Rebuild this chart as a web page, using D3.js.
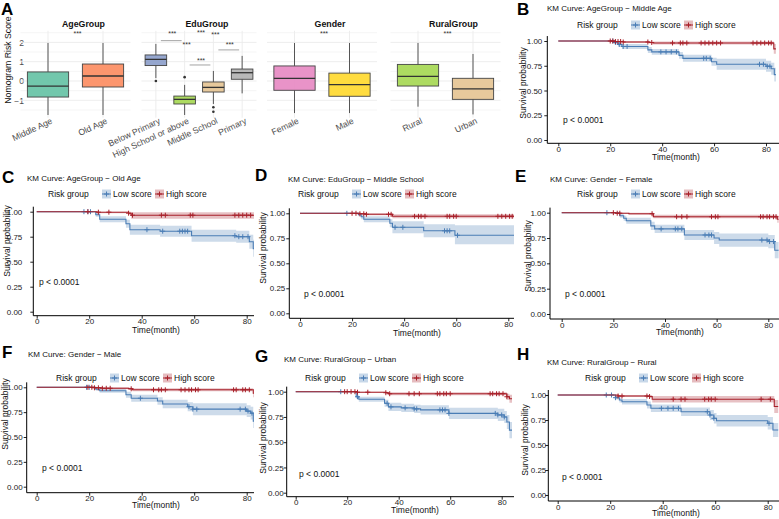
<!DOCTYPE html>
<html lang="en">
<head>
<meta charset="UTF-8">
<script src="https://d3js.org/d3.v7.min.js"></script>
<style>
  body { margin: 0; background: #fff; }
  svg { font-family: "Liberation Sans", Arial, sans-serif; }
  .tag { font-size: 17px; font-weight: bold; fill: #000; }
  .kmtitle { font-size: 8px; fill: #111; }
  .kmtext { font-size: 8.5px; fill: #111; }
</style>
</head>
<body>
<svg id="fig" width="779" height="519"></svg>
<script>

// ---------------- panel A : box plots ----------------
const facets = ["AgeGroup", "EduGroup", "Gender", "RuralGroup"];
const facetGroups = [
  ["Middle Age", "Old Age"],
  ["Below Primary", "High School or above", "Middle School", "Primary"],
  ["Female", "Male"],
  ["Rural", "Urban"]
];
const boxFill = [
  ["#66C2A5", "#FC8D62"],
  ["#8DA0CB", "#A6D854", "#E5C494", "#B3B3B3"],
  ["#E78AC3", "#FFD92F"],
  ["#A6D854", "#E5C494"]
];
const whiskLow  = [[-1.76, -1.76], [0.15, -1.76, -1.19, -0.64], [-1.66, -1.66], [-1.33, -1.73]];
const q1        = [[-0.83, -0.31], [0.80, -1.19, -0.57, 0.09], [-0.48, -0.79], [-0.26, -0.95]];
const median    = [[-0.26, 0.26], [1.12, -0.95, -0.33, 0.43], [0.14, -0.19], [0.24, -0.41]];
const q3        = [[0.47, 0.88], [1.35, -0.78, -0.05, 0.62], [0.78, 0.41], [0.86, 0.14]];
const whiskHigh = [[1.97, 1.97], [1.92, -0.20, 0.52, 1.30], [1.97, 1.97], [1.97, 1.40]];
const outliers  = [[[], []], [[0.0], [0.2], [-1.36, -1.59], []], [[], []], [[], []]];
const boxTicks = [-1, 0, 1, 2];
const boxGrid = [-1.5, -1, -0.5, 0, 0.5, 1, 1.5, 2, 2.5];

// significance labels ("***") for EduGroup pairs
const eduPairs = [
  ["Below Primary", "High School or above"],
  ["Below Primary", "Middle School"],
  ["Below Primary", "Primary"],
  ["High School or above", "Middle School"],
  ["High School or above", "Primary"],
  ["Middle School", "Primary"]
];
const eduSigY  = [2.47, 1.90, 2.52, 1.09, 2.42, 1.90];
const eduLineY = [2.09, null, null, 0.83, null, 1.61];

// ---------------- KM panels B..H ----------------
const kmIds = ["B", "C", "D", "E", "F", "G", "H"];
const kmTitles = [
  "KM Curve: AgeGroup \u2212 Middle Age",
  "KM Curve: AgeGroup \u2212 Old Age",
  "KM Curve: EduGroup \u2212 Middle School",
  "KM Curve: Gender \u2212 Female",
  "KM Curve: Gender \u2212 Male",
  "KM Curve: RuralGroup \u2212 Urban",
  "KM Curve: RuralGroup \u2212 Rural"
];
const kmTicksX = [0, 20, 40, 60, 80];
const kmTicksY = [0, 0.25, 0.5, 0.75, 1];

// steps: [time, survival, lower CI, upper CI]
const lowB = [[0,1,1,1],[21.5,0.985,0.97,1],[23,0.965,0.945,0.985],[24.5,0.945,0.92,0.97],[34.5,0.91,0.88,0.94],[36,0.89,0.86,0.92],[46.5,0.855,0.82,0.89],[48,0.825,0.79,0.86],[59,0.79,0.75,0.83],[61,0.765,0.71,0.82],[80,0.745,0.69,0.8],[82,0.72,0.66,0.78],[83.2,0.66,0.59,0.73],[83.8,0.66,0.59,0.73]];
const highB = [[0,1,1,1],[22,0.995,0.99,1],[25,0.99,0.98,1],[35,0.985,0.975,0.995],[36.5,0.98,0.965,0.995],[83,0.92,0.87,0.97],[83.8,0.92,0.87,0.97]];
const censLowB = [21,22,23.5,25,26.5,39.5,41.5,43.5,45.5,56,57,58.5,77.5,79,80.5,81.5];
const censHighB = [20,21,22,23,24,25,34.5,36,44,47,48,49.5,55,56.5,58,59.5,61,62.5,75,76.5,78,79.5,81,82];

const lowC = [[0,1,1,1],[22.5,0.97,0.95,0.99],[24,0.925,0.895,0.955],[34,0.88,0.84,0.92],[35.5,0.82,0.77,0.87],[47,0.805,0.75,0.86],[59,0.76,0.7,0.82],[76,0.75,0.69,0.81],[81,0.7,0.63,0.77],[82.5,0.63,0.55,0.72],[84,0.63,0.55,0.72]];
const highC = [[0,1,1,1],[23,0.995,0.985,1],[35,0.985,0.97,1],[36,0.965,0.93,0.995],[83,0.935,0.89,0.98],[84,0.935,0.89,0.98]];
const censLowC = [18,19.5,20.5,42,48,54.5,55.5,56.5,57.5,75.5,77,78.5,80.5];
const censHighC = [19.5,23.5,27.5,35,36.5,47.5,49,58.5,59.5,75.5,77,78.5,80,81.5];

const lowD = [[0,1,1,1],[22.5,0.985,0.97,1],[23.5,0.965,0.94,0.99],[24.5,0.94,0.91,0.97],[34.5,0.9,0.86,0.94],[35.5,0.86,0.8,0.92],[47.5,0.825,0.76,0.89],[59.5,0.78,0.69,0.88],[84,0.78,0.69,0.88]];
const highD = [[0,1,1,1],[23,0.995,0.99,1],[25,0.99,0.98,1],[35.5,0.97,0.95,0.99],[82.5,0.91,0.86,0.96],[84,0.91,0.86,0.96]];
const censLowD = [18,36.5,39.5,55.5,56.5,57.5,60.5];
const censHighD = [20,21.5,23,24.5,25.5,34,35,44,45.5,46.5,48,56.5,57.5,59,60,76,77.5,79,80.5,81.5];

const lowE = [[0,1,1,1],[22.5,0.97,0.95,0.99],[24,0.945,0.92,0.97],[25,0.92,0.89,0.95],[34.5,0.87,0.83,0.91],[36,0.84,0.8,0.88],[47.5,0.78,0.73,0.83],[59,0.75,0.69,0.81],[61,0.73,0.665,0.795],[80,0.715,0.65,0.78],[82.5,0.63,0.55,0.71],[84,0.63,0.55,0.71]];
const highE = [[0,1,1,1],[21,0.995,0.99,1],[26,0.99,0.98,1],[35.5,0.96,0.945,0.98],[83.5,0.935,0.9,0.97],[84,0.935,0.9,0.97]];
const censLowE = [17.5,38.5,44,45,46.5,55.5,57,58,77.5,79.5,80.5,82];
const censHighE = [20,21.5,22.5,35,44.5,46.5,48.5,58,59.5,60.5,77,78,79.5,80.5,82,83];

const lowF = [[0,1,1,1],[22.5,0.98,0.965,0.995],[24,0.966,0.945,0.985],[34,0.925,0.895,0.955],[36,0.89,0.855,0.925],[46,0.862,0.825,0.9],[48,0.832,0.79,0.875],[57.5,0.805,0.76,0.85],[59.5,0.78,0.72,0.84],[80,0.76,0.7,0.82],[81.5,0.74,0.675,0.805],[82.5,0.66,0.59,0.73],[84,0.66,0.59,0.73]];
const highF = [[0,1,1,1],[22,0.995,0.99,1],[25,0.99,0.98,1],[35,0.985,0.975,0.995],[36.5,0.975,0.96,0.99],[82.5,0.94,0.9,0.98],[83.3,0.92,0.87,0.97],[84,0.92,0.87,0.97]];
const censLowF = [19,20,39.5,58,59.5,61,77.5,79.5,80.5,82];
const censHighF = [19.5,21,22,23.5,25,26.5,28,36,44.5,46.5,47.5,49,55,56.5,58,59,60.5,61.5,75,76,78.5,79.5,81];

const lowG = [[0,1,1,1],[23.5,0.95,0.93,0.97],[24.5,0.925,0.9,0.95],[34.5,0.885,0.85,0.92],[36,0.85,0.81,0.89],[41,0.84,0.8,0.88],[46,0.83,0.79,0.87],[48.5,0.82,0.775,0.865],[59.5,0.785,0.73,0.84],[78.5,0.77,0.71,0.83],[81,0.75,0.69,0.81],[82,0.7,0.63,0.77],[83,0.62,0.54,0.7],[84,0.62,0.54,0.7]];
const highG = [[0,1,1,1],[24,0.995,0.99,1],[35,0.99,0.98,1],[36,0.98,0.965,0.995],[82,0.95,0.92,0.98],[83,0.93,0.89,0.97],[84,0.93,0.89,0.97]];
const censLowG = [17.5,24,35.5,37,42.5,46,47,56,57,58,59.5,77.5,78.5,80,81];
const censHighG = [19,20,21.5,23,24,28,35,36.5,44,46,48,55,56,57.5,58.5,60,75.5,76.5,78,79,80.5,82];

const lowH = [[0,1,1,1],[22,0.973,0.955,0.99],[23.5,0.95,0.925,0.975],[24.5,0.933,0.905,0.96],[34,0.9,0.865,0.935],[35.5,0.867,0.83,0.905],[47,0.833,0.79,0.875],[58,0.8,0.75,0.85],[59.5,0.767,0.715,0.82],[60.5,0.743,0.685,0.8],[80,0.717,0.655,0.78],[82,0.65,0.58,0.72],[84,0.65,0.58,0.72]];
const highH = [[0,1,1,1],[23,0.99,0.98,1],[35,0.985,0.97,1],[36,0.958,0.925,0.99],[82.5,0.885,0.82,0.95],[84,0.885,0.82,0.95]];
const censLowH = [18.5,20.5,22,39.5,42,44,46,57,58,59.5,80.5];
const censHighH = [23,24.5,34,35,44,47,48.5,56,57.5,58.5,60,77.5,81];

const kmLow = [lowB, lowC, lowD, lowE, lowF, lowG, lowH];
const kmHigh = [highB, highC, highD, highE, highF, highG, highH];
const kmCensLow = [censLowB, censLowC, censLowD, censLowE, censLowF, censLowG, censLowH];
const kmCensHigh = [censHighB, censHighC, censHighD, censHighE, censHighF, censHighG, censHighH];

const blue = "#4A7DB5", red = "#A8202A";

// ---------------- layout ----------------
const facetRange = [[20.5, 130.5], [141.5, 256.5], [267, 377], [390.5, 500.5]];

// per KM panel geometry (pixels)
const kmLayout = [
  {ax: 547.3, x0: 558.3, x80: 766,   y1: 41,    y0: 140,   axY: 143.3, tg: 4,  right: 779, lab: [517, 15],  title: [547, 11],  leg: [577, 28],  p: [563, 123], xt: [676, 160], yt: [523, 83]},
  {ax: 33.3,  x0: 36.7,  x80: 246.7, y1: 211.7, y0: 311.7, axY: 315.7, tg: 10, right: 254, lab: [2, 183],   title: [27, 181],  leg: [48, 197],  p: [39, 285],  xt: [156, 333], yt: [7, 241]},
  {ax: 289.3, x0: 300,   x80: 508.3, y1: 213.3, y0: 313.3, axY: 318.3, tg: 3,  right: 514, lab: [255, 181], title: [288, 182], leg: [298, 197], p: [304, 297], xt: [417, 336], yt: [263, 248]},
  {ax: 550,   x0: 561.7, x80: 768.3, y1: 212.7, y0: 314,   axY: 319,   tg: 3,  right: 779, lab: [515, 182], title: [550, 182], leg: [577, 197], p: [565, 297], xt: [680, 335], yt: [528, 256]},
  {ax: 26.7,  x0: 36.7,  x80: 246.7, y1: 387.3, y0: 486.7, axY: 492.7, tg: 3,  right: 254, lab: [2, 358],   title: [28, 357],  leg: [56, 381],  p: [42, 471],  xt: [156, 508], yt: [5, 414]},
  {ax: 286.7, x0: 295.7, x80: 501.7, y1: 391.7, y0: 492.7, axY: 496.7, tg: 2,  right: 514, lab: [255, 362], title: [284, 362], leg: [305, 381], p: [299, 477], xt: [415, 513], yt: [263, 438]},
  {ax: 548.3, x0: 557.7, x80: 767.7, y1: 395,   y0: 495,   axY: 501,   tg: 1,  right: 779, lab: [517, 360], title: [547, 365], leg: [585, 381], p: [562, 480], xt: [676, 516], yt: [525, 440]}
];

const svg = d3.select("#fig");

// ================= Panel A =================
const yBox = d3.scaleLinear().domain([-1.9, 2.6]).range([117.7, 30.8]);
const gA = svg.append("g");

gA.append("text")
    .attr("transform", `translate(11,60) rotate(-90)`)
    .attr("text-anchor", "middle")
    .attr("font-size", 8.7)
    .attr("fill", "#111")
    .text("Nomogram Risk Score");

gA.append("text").attr("class", "tag").attr("x", 1).attr("y", 15).text("A");

// y tick labels (left facet only)
const yAxisA = gA.append("g")
    .attr("transform", "translate(27,0)")
    .call(d3.axisLeft(yBox).tickValues(boxTicks).tickSize(0).tickPadding(3).tickFormat(d3.format("d")));
yAxisA.select(".domain").remove();
yAxisA.selectAll("text").attr("font-size", 8.5).attr("fill", "#4d4d4d")
    .attr("font-family", "Liberation Sans, Arial, sans-serif");

facets.forEach((f, fi) => {
  const [xa, xb] = facetRange[fi];
  const x = d3.scaleBand().domain(facetGroups[fi]).range([xa, xb]);
  const bw = x.bandwidth() * 0.75;
  const g = gA.append("g");

  // grid
  g.selectAll(".hg").data(boxGrid).enter().append("line")
      .attr("x1", xa).attr("x2", xb)
      .attr("y1", d => yBox(d)).attr("y2", d => yBox(d))
      .attr("stroke", "#ebebeb")
      .attr("stroke-width", d => Number.isInteger(d) ? 0.9 : 0.5);
  g.selectAll(".vg").data(facetGroups[fi]).enter().append("line")
      .attr("x1", d => x(d) + x.bandwidth() / 2).attr("x2", d => x(d) + x.bandwidth() / 2)
      .attr("y1", yBox(2.6)).attr("y2", yBox(-1.9))
      .attr("stroke", "#ebebeb").attr("stroke-width", 0.9);

  // facet title
  g.append("text")
      .attr("x", (xa + xb) / 2 + 8).attr("y", 27)
      .attr("text-anchor", "middle")
      .attr("font-size", 8.8).attr("font-weight", "bold").attr("fill", "#111")
      .text(f);

  // boxes
  facetGroups[fi].forEach((c, ci) => {
    const cx = x(c) + x.bandwidth() / 2;
    g.append("line")
        .attr("x1", cx).attr("x2", cx)
        .attr("y1", yBox(whiskHigh[fi][ci])).attr("y2", yBox(q3[fi][ci]))
        .attr("stroke", "#555").attr("stroke-width", 1);
    g.append("line")
        .attr("x1", cx).attr("x2", cx)
        .attr("y1", yBox(q1[fi][ci])).attr("y2", yBox(whiskLow[fi][ci]))
        .attr("stroke", "#555").attr("stroke-width", 1);
    g.append("rect")
        .attr("x", cx - bw / 2).attr("width", bw)
        .attr("y", yBox(q3[fi][ci])).attr("height", yBox(q1[fi][ci]) - yBox(q3[fi][ci]))
        .attr("fill", boxFill[fi][ci]).attr("fill-opacity", 0.92)
        .attr("stroke", "#444").attr("stroke-width", 0.9);
    g.append("line")
        .attr("x1", cx - bw / 2).attr("x2", cx + bw / 2)
        .attr("y1", yBox(median[fi][ci])).attr("y2", yBox(median[fi][ci]))
        .attr("stroke", "#333").attr("stroke-width", 1.3);
    g.selectAll(null).data(outliers[fi][ci]).enter().append("circle")
        .attr("cx", cx).attr("cy", d => yBox(d)).attr("r", 1.3)
        .attr("fill", "#333");

    // rotated category label
    g.append("text")
        .attr("transform", `translate(${cx + 5},123) rotate(-25)`)
        .attr("text-anchor", "end")
        .attr("font-size", 8.7).attr("fill", "#4d4d4d")
        .text(c);
  });

  // significance
  if (facetGroups[fi].length === 2) {
    const mid = (x(facetGroups[fi][0]) + x(facetGroups[fi][1]) + x.bandwidth()) / 2;
    g.append("text")
        .attr("x", mid + 2).attr("y", yBox(2.47) + 3)
        .attr("text-anchor", "middle").attr("font-size", 7).attr("fill", "#333")
        .text("***");
  } else {
    eduPairs.forEach((p, pi) => {
      const xa1 = x(p[0]) + x.bandwidth() / 2, xb1 = x(p[1]) + x.bandwidth() / 2;
      const mid = (xa1 + xb1) / 2;
      g.append("text")
          .attr("x", mid + 2).attr("y", yBox(eduSigY[pi]) + 3)
          .attr("text-anchor", "middle").attr("font-size", 7).attr("fill", "#333")
          .text("***");
      if (eduLineY[pi] !== null) {
        g.append("line")
            .attr("x1", xa1 + 5).attr("x2", xb1 - 3)
            .attr("y1", yBox(eduLineY[pi])).attr("y2", yBox(eduLineY[pi]))
            .attr("stroke", "#999").attr("stroke-width", 0.9);
      }
    });
  }
});

// ================= KM panels =================
function stepValue(steps, t) {
  const i = d3.bisector(d => d[0]).right(steps, t) - 1;
  return steps[Math.max(0, i)][1];
}

function plus(g, cx, cy, color) {
  g.append("path")
      .attr("d", `M${cx - 2.5},${cy}H${cx + 2.5}M${cx},${cy - 2.5}V${cy + 2.5}`)
      .attr("stroke", color).attr("stroke-width", 1);
}

kmIds.forEach((id, i) => {
  const L = kmLayout[i];
  const g = svg.append("g");
  const x = d3.scaleLinear().domain([0, 80]).range([L.x0, L.x80]);
  const y = d3.scaleLinear().domain([0, 1]).range([L.y0, L.y1]);

  g.append("text").attr("class", "tag").attr("x", L.lab[0]).attr("y", L.lab[1]).text(id);
  g.append("text").attr("class", "kmtitle").attr("x", L.title[0]).attr("y", L.title[1]).text(kmTitles[i]);

  // legend
  const lg = g.append("g").attr("transform", `translate(${L.leg[0]},${L.leg[1]})`);
  lg.append("text").attr("class", "kmtext").attr("x", 0).attr("y", 0).text("Risk group");
  [[54, blue, "Low score"], [107, red, "High score"]].forEach(([dx, col, lab]) => {
    lg.append("rect").attr("x", dx).attr("y", -7.5).attr("width", 9).attr("height", 9)
        .attr("fill", col).attr("fill-opacity", 0.3);
    lg.append("line").attr("x1", dx).attr("x2", dx + 9).attr("y1", -3).attr("y2", -3)
        .attr("stroke", col).attr("stroke-width", 1);
    plus(lg, dx + 4.5, -3, col);
    lg.append("text").attr("class", "kmtext").attr("x", dx + 11).attr("y", 0).text(lab);
  });

  // clip region for the plotting area
  const clipId = "clip" + id;
  g.append("clipPath").attr("id", clipId).append("rect")
      .attr("x", L.ax).attr("y", y(1.08))
      .attr("width", L.right - L.ax).attr("height", L.axY - y(1.08));
  const plot = g.append("g").attr("clip-path", `url(#${clipId})`);

  const area = d3.area().curve(d3.curveStepAfter)
      .x(d => x(d[0])).y0(d => y(d[2])).y1(d => y(d[3]));
  const line = d3.line().curve(d3.curveStepAfter)
      .x(d => x(d[0])).y(d => y(d[1]));

  const series = [[kmLow[i], kmCensLow[i], blue], [kmHigh[i], kmCensHigh[i], red]];
  series.forEach(([steps, , col]) => {
    plot.append("path").attr("d", area(steps)).attr("fill", col).attr("fill-opacity", 0.28);
  });
  series.forEach(([steps, cens, col]) => {
    plot.append("path").attr("d", line(steps)).attr("fill", "none")
        .attr("stroke", col).attr("stroke-width", 1.1);
    cens.forEach(t => plus(plot, x(t), y(stepValue(steps, t)), col));
  });

  // axes
  const ya = g.append("g").attr("transform", `translate(${L.ax},0)`)
      .call(d3.axisLeft(y).tickValues(kmTicksY).tickFormat(d3.format(".2f"))
            .tickSize(3).tickPadding(L.tg - 2));
  ya.select(".domain").remove();
  ya.selectAll("text").attr("font-size", 8).attr("fill", "#222")
      .attr("font-family", "Liberation Sans, Arial, sans-serif");
  ya.selectAll("line").attr("stroke", "#222");
  g.append("line").attr("x1", L.ax).attr("x2", L.ax)
      .attr("y1", y(1.05)).attr("y2", L.axY).attr("stroke", "#000").attr("stroke-width", 1);

  const xa = g.append("g").attr("transform", `translate(0,${L.axY})`)
      .call(d3.axisBottom(x).tickValues(kmTicksX).tickSize(3).tickPadding(0));
  xa.select(".domain").remove();
  xa.selectAll("text").attr("font-size", 8).attr("fill", "#222")
      .attr("font-family", "Liberation Sans, Arial, sans-serif");
  xa.selectAll("line").attr("stroke", "#222");
  g.append("line").attr("x1", L.ax).attr("x2", L.right)
      .attr("y1", L.axY).attr("y2", L.axY).attr("stroke", "#000").attr("stroke-width", 1);

  g.append("text").attr("class", "kmtext").attr("x", L.xt[0]).attr("y", L.xt[1])
      .attr("text-anchor", "middle").text("Time(month)");
  g.append("text").attr("class", "kmtext")
      .attr("transform", `translate(${L.yt[0] + 3},${L.yt[1]}) rotate(-90)`)
      .attr("text-anchor", "middle").text("Survival probability");
  g.append("text").attr("class", "kmtext").attr("x", L.p[0]).attr("y", L.p[1]).text("p < 0.0001");
});

</script>
</body>
</html>
